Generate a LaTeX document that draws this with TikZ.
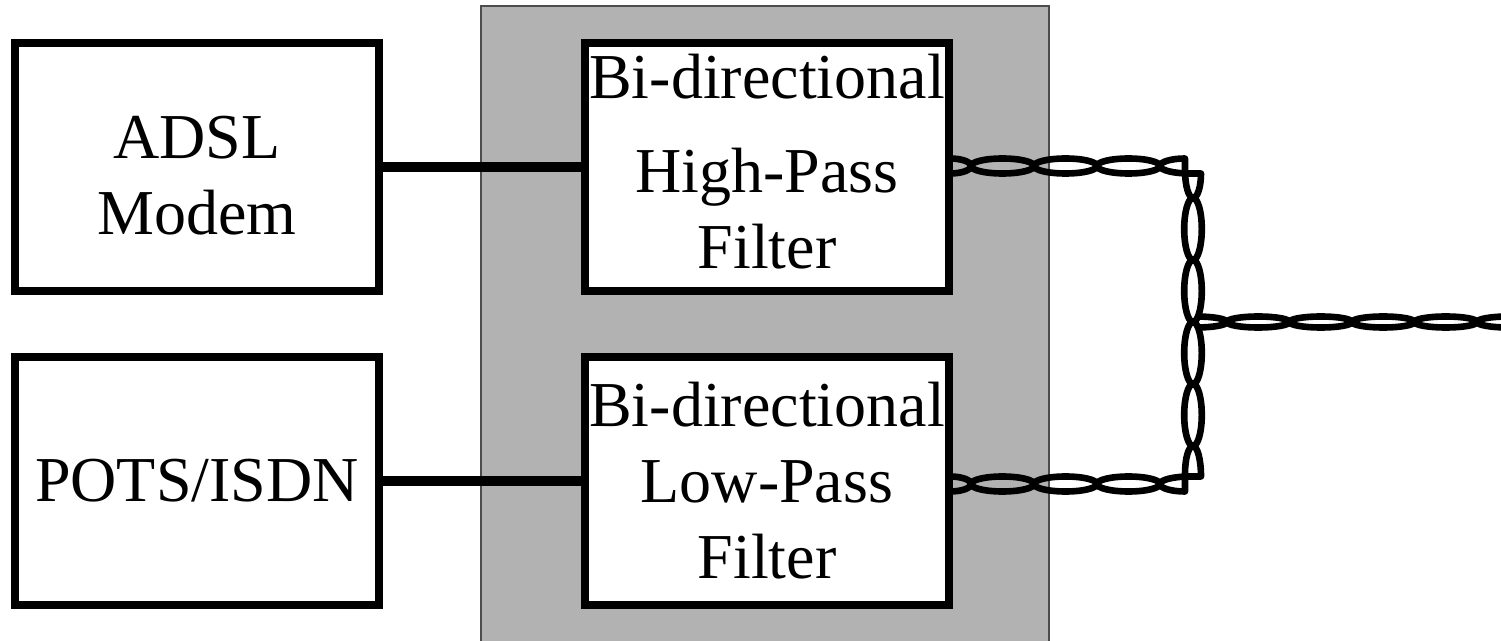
\documentclass[tikz,border=0pt]{standalone}
\usepackage{fontspec}
\setmainfont{Liberation Serif}
\usetikzlibrary{positioning}

\tikzset{
  block/.style={draw, line width=4pt, fill=white, minimum width=182pt,
    minimum height=124pt, inner sep=0pt, align=center,
    font=\fontsize{32}{38}\selectfont},
  link/.style={line width=4.6pt},
  wire/.style={line width=3.3pt, line join=round},
  housing/.style={draw=black!70, line width=0.7pt, fill=black!30}
}

\begin{document}
\begin{tikzpicture}[x=0.5pt, y=-0.5pt]
    \useasboundingbox (0,0) rectangle (1501,641);
    \fill[white] (0,0) rectangle (1501,641);
    % splitter housing
    \draw[housing] (481,6) rectangle (1049,700);

    \node[block] (adsl) at (197,167) {\rule{0pt}{30pt}ADSL\\Modem};
    \node[block, right=99pt of adsl] (hpf) {Bi-directional\\[9pt]High-Pass\\Filter\rule[-6pt]{0pt}{1pt}};
    \node[block, below=29pt of adsl] (pots) {POTS/ISDN};
    \node[block, right=99pt of pots] (lpf) {Bi-directional\\Low-Pass\\Filter};

    \draw[link] (adsl) -- (hpf);
    \draw[link] (pots) -- (lpf);

    % twisted pairs leaving the filters
    \foreach \cy in {166,484} {
      \draw[wire] (950,\cy-7.5) arc[start angle=90, end angle=-90, x radius=10.5pt, y radius=3.75pt];
      \foreach \cx in {1002.5,1065.5,1128.5}
        \draw[wire] (\cx,\cy) ellipse[x radius=15.75pt, y radius=3.75pt];
    }
    % corner at the top
    \draw[wire] (1160,166) arc[start angle=180, end angle=90, x radius=12.5pt, y radius=3.75pt]
      -- (1185,170) arc[start angle=180, end angle=270, x radius=4pt, y radius=14pt];
    \draw[wire] (1160,166) arc[start angle=180, end angle=270, x radius=15pt, y radius=3.75pt]
      -- (1201,173.5) arc[start angle=0, end angle=-90, x radius=4pt, y radius=12.25pt];
    % riser
    \foreach \cy in {229,291,353,415}
      \draw[wire] (1193,\cy) ellipse[x radius=4.4pt, y radius=15.5pt];
    % corner at the bottom
    \draw[wire] (1193,446) arc[start angle=90, end angle=0, x radius=4pt, y radius=15.25pt]
      -- (1190,476.5) arc[start angle=90, end angle=180, x radius=15pt, y radius=3.75pt];
    \draw[wire] (1193,446) arc[start angle=90, end angle=180, x radius=4pt, y radius=14pt]
      -- (1185,491.5) arc[start angle=-90, end angle=-180, x radius=12.5pt, y radius=3.75pt];
    % line side
    \draw[wire] (1196,316.5) arc[start angle=90, end angle=-90, x radius=15.5pt, y radius=2.75pt];
    \foreach \cx in {1258.25,1320.75,1383.25,1445.75,1508.25}
      \draw[wire] (\cx,322) ellipse[x radius=15.625pt, y radius=2.75pt];
\end{tikzpicture}
\end{document}
